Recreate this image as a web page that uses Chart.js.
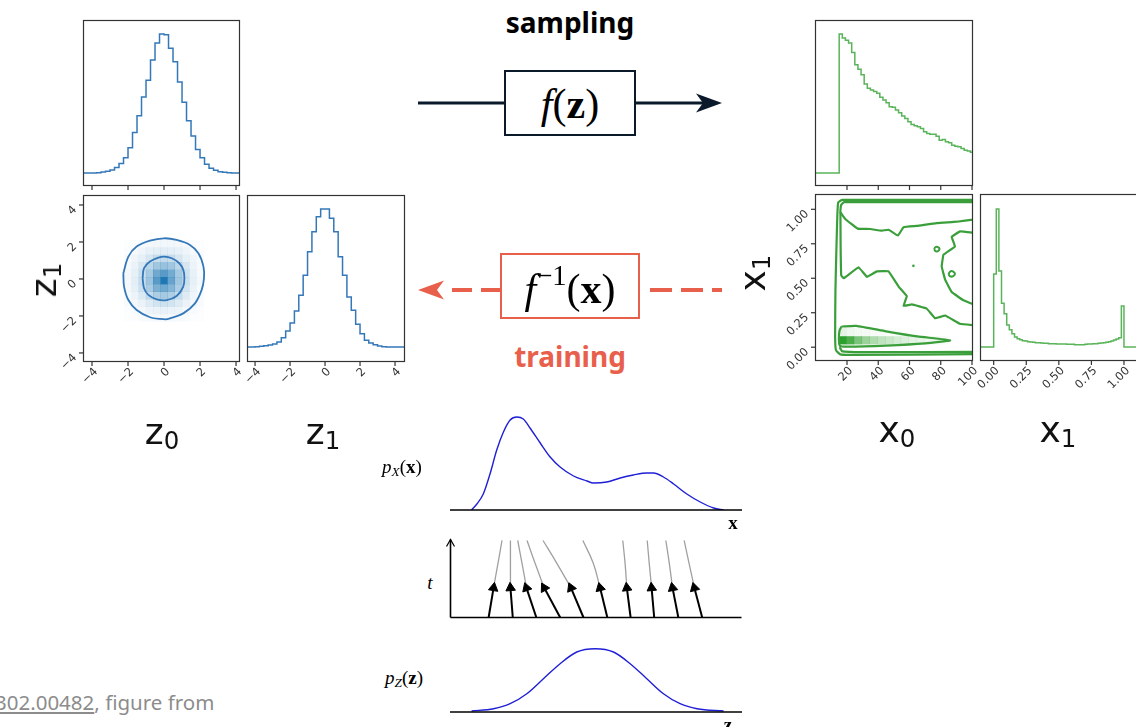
<!DOCTYPE html>
<html>
<head>
<meta charset="utf-8">
<title>normalizing flow</title>
<script src="https://cdn.jsdelivr.net/npm/chart.js@4.4.1/dist/chart.umd.min.js"></script>
<style>
  html, body { margin: 0; padding: 0; background: #fff; }
  #page { position: relative; width: 1136px; height: 727px; overflow: hidden; }
  #page canvas, #page svg { position: absolute; left: 0; top: 0; }
  .lbl { position: absolute; transform: translate(-50%, -50%); white-space: nowrap; line-height: 1; }
  .big { font-family: "DejaVu Sans", sans-serif; font-size: 36px; color: #111; }
  .big sub { font-size: 0.68em; vertical-align: baseline; position: relative; top: 0.22em; }
  .rot { transform: translate(-50%, -50%) rotate(-90deg); }
  .head { font-family: "Noto Sans", sans-serif; font-weight: 700; font-size: 28px; }
  .math { font-family: "Liberation Serif", serif; font-size: 42px; color: #000; }
  .math sup { font-size: 0.68em; vertical-align: baseline; position: relative; top: -0.62em; }
  .small { font-family: "Liberation Serif", serif; font-size: 19px; color: #000; }
  .small sub { font-size: 0.7em; vertical-align: baseline; position: relative; top: 0.25em; }
  #foot { position: absolute; left: -5px; top: 688px; font-family: "Noto Sans", sans-serif; font-size: 20.5px; color: #8c8c8c; white-space: nowrap; }
</style>
</head>
<body>
<div id="page">
  <svg width="1136" height="727">
    <line x1="418" y1="103" x2="505" y2="103" stroke="#0b1a2a" stroke-width="3"/>
    <line x1="635" y1="103" x2="704" y2="103" stroke="#0b1a2a" stroke-width="3"/>
    <path d="M722,103 L696,93.5 L703,103 L696,112.5 Z" fill="#0b1a2a"/>
    <rect x="505" y="71" width="130" height="64" fill="#fff" stroke="#0b1a2a" stroke-width="2"/>
    <path d="M418,290 L444,280.5 L437,290 L444,299.5 Z" fill="#e8604c"/>
    <line x1="452" y1="290" x2="501" y2="290" stroke="#e8604c" stroke-width="4" stroke-dasharray="20 9"/>
    <line x1="650" y1="290" x2="722" y2="290" stroke="#e8604c" stroke-width="4" stroke-dasharray="22 9"/>
    <rect x="501" y="254" width="138" height="64" fill="#fff" stroke="#e8604c" stroke-width="2"/>
  </svg>
</div>
<script>
var page = document.getElementById('page');

// ---------- data ----------
var zTicks = [-4, -2, 0, 2, 4];
var zTickLabels = ['−4', '−2', '0', '2', '4'];
var x0Ticks = [20, 40, 60, 80, 100];
var x0TickLabels = ['20', '40', '60', '80', '100'];
var x1Ticks = [0, 0.25, 0.5, 0.75, 1];
var x1TickLabels = ['0.00', '0.25', '0.50', '0.75', '1.00'];

var zBinStart = -4.5, zBinWidth = 0.25;
var z0Counts = [0, 0, 0, 1, 3, 5, 9, 16, 28, 45, 75, 120, 170, 225, 275, 335, 385, 412,
  410, 370, 330, 270, 210, 155, 110, 70, 45, 26, 14, 8, 4, 2, 1, 0, 0];
var z1Counts = [0, 0, 1, 2, 4, 6, 9, 15, 28, 48, 72, 108, 155, 215, 285, 345, 390, 413,
  413, 385, 345, 270, 215, 150, 110, 68, 40, 20, 12, 7, 3, 1, 0, 0, 0, 0];

var x0BinStart = 15, x0BinWidth = 2;
var x0Counts = [415, 403, 396, 388, 360, 323, 310, 293, 266, 253, 248, 243, 238, 226, 218,
  210, 198, 196, 188, 180, 170, 163, 153, 145, 141, 138, 133, 123, 118, 116, 116, 110,
  98, 100, 93, 90, 83, 80, 78, 73, 68, 66, 62];

var x1BinStart = 0, x1BinWidth = 0.02;
var x1Counts = [219, 414, 228, 131, 100, 66, 52, 40, 30, 25, 22, 19, 18, 16, 15, 14, 13, 13,
  12, 11, 11, 10, 10, 10, 9, 9, 9, 9, 8, 8, 8, 7, 7, 7, 7, 8, 9, 9, 10, 10, 11, 12, 13, 14,
  16, 18, 21, 24, 28, 123];

// 2d histogram of z (density, 0..1)
var zCellX = [-2.0, -1.6, -1.2, -0.8, -0.4, 0, 0.4, 0.8, 1.2, 1.6, 2.0];
var zCellY = [1.9, 1.5, 1.1, 0.7, 0.3, -0.1, -0.5, -0.9, -1.3, -1.7, -2.1];
var zCells = [
  [0.01, 0.02, 0.04, 0.05, 0.06, 0.06, 0.06, 0.05, 0.04, 0.02, 0.01],
  [0.02, 0.04, 0.07, 0.10, 0.12, 0.13, 0.12, 0.10, 0.07, 0.04, 0.02],
  [0.03, 0.07, 0.11, 0.18, 0.25, 0.27, 0.25, 0.18, 0.11, 0.07, 0.03],
  [0.04, 0.09, 0.18, 0.30, 0.42, 0.46, 0.42, 0.30, 0.18, 0.08, 0.04],
  [0.05, 0.11, 0.23, 0.40, 0.64, 0.74, 0.62, 0.40, 0.22, 0.10, 0.04],
  [0.05, 0.12, 0.24, 0.44, 0.74, 1.00, 0.68, 0.42, 0.23, 0.11, 0.05],
  [0.05, 0.11, 0.22, 0.38, 0.58, 0.64, 0.55, 0.37, 0.20, 0.09, 0.04],
  [0.04, 0.08, 0.16, 0.27, 0.37, 0.40, 0.36, 0.25, 0.15, 0.07, 0.03],
  [0.03, 0.05, 0.09, 0.15, 0.20, 0.22, 0.20, 0.15, 0.09, 0.05, 0.03],
  [0.01, 0.03, 0.05, 0.08, 0.09, 0.10, 0.09, 0.08, 0.05, 0.03, 0.01],
  [0.01, 0.01, 0.03, 0.04, 0.04, 0.05, 0.04, 0.04, 0.03, 0.01, 0.01]
];
var zOuter = [[-2.26, 0.31], [-1.98, 1.21], [-1.52, 1.75], [-0.78, 2.07], [0, 2.2], [0.70, 2.11],
  [1.44, 1.84], [1.91, 1.39], [2.19, 0.67], [2.22, 0.04], [2.09, -0.59], [1.72, -1.32],
  [1.07, -1.86], [0.33, -2.13], [0.06, -2.18], [-0.78, -2.07], [-1.52, -1.68], [-1.98, -1.14],
  [-2.22, -0.41], [-2.26, 0.31]];
var zInner = [[-1.19, 0.04], [-1.11, 0.58], [-0.78, 0.94], [-0.31, 1.15], [0, 1.21], [0.43, 1.12],
  [0.85, 0.85], [1.07, 0.49], [1.13, 0.09], [1.07, -0.41], [0.70, -0.92], [0.15, -1.14],
  [-0.41, -1.10], [-0.87, -0.86], [-1.11, -0.50], [-1.19, 0.04]];

// 2d histogram of x
var xCellX = [17, 22, 27, 32, 37, 42, 47, 52, 57, 62, 67, 72, 77, 82];
var xCellY = [0.05, 0.11];
var xCells = [
  [1.0, 0.85, 0.62, 0.48, 0.38, 0.30, 0.25, 0.20, 0.16, 0.13, 0.10, 0.08, 0.06, 0.04],
  [0.12, 0.08, 0.06, 0.05, 0.04, 0.03, 0.02, 0.02, 0.01, 0.01, 0, 0, 0, 0]
];
var xOuter = [[101, 1.068], [17, 1.068], [14.4, 1.05], [13.8, 0.95], [13.1, 0.66], [12.6, 0.41],
  [12.4, 0.08], [12.9, -0.02], [15.7, -0.052], [22, -0.056], [101, -0.05]];
var xBottomBand = [[15.3, 0.0], [17, -0.03], [30, -0.036], [101, -0.034]];
var xTopBand = [[101, 1.052], [18, 1.052], [16.2, 1.03], [15.8, 0.98], [18.9, 0.93], [26.8, 0.86],
  [34.9, 0.857], [42.3, 0.845], [46.6, 0.852], [52.6, 0.81], [56.2, 0.87], [64.7, 0.88],
  [77.4, 0.90], [90.2, 0.91], [101, 0.925]];
var xMidBand = [[15.8, 0.98], [15.9, 0.75], [16.3, 0.52], [17.9, 0.50], [27.4, 0.58], [32.8, 0.51],
  [39.1, 0.55], [46.6, 0.55], [53, 0.44], [58.3, 0.37], [56.2, 0.30], [61.5, 0.31], [71, 0.28],
  [76.4, 0.21], [82.8, 0.23], [92.3, 0.17], [101, 0.16]];
var xRightBlob = [[101, 0.83], [92.3, 0.84], [87, 0.80], [89.1, 0.73], [81.7, 0.67], [80.6, 0.585],
  [82.8, 0.49], [87, 0.40], [94.5, 0.34], [101, 0.31]];
var xTongue = [[16.5, 0.15], [26, 0.155], [45, 0.115], [65, 0.078], [86, 0.05], [70, 0.028],
  [45, 0.012], [20, 0.004], [15.5, 0.01], [14.8, 0.06], [15.2, 0.12], [16.5, 0.15]];
var xIslandA = [[75.7, 0.71], [76.5, 0.725], [78, 0.727], [79.2, 0.715], [78.6, 0.70], [77, 0.695], [75.7, 0.71]];
var xIslandB = [[84.9, 0.53], [86.2, 0.55], [88, 0.548], [89.1, 0.532], [88, 0.515], [86, 0.514], [84.9, 0.53]];
var xSpeck = [[62.5, 0.59]];

// 1d flow sketch
var pxX = [0.74, 0.92, 1.14, 1.37, 1.60, 1.83, 2.06, 2.29, 2.51, 2.74, 3.09, 3.43, 3.77, 4.23,
  4.69, 4.91, 5.37, 5.83, 6.28, 6.74, 6.97, 7.31, 7.66, 8.11, 8.57, 9.03, 9.37];
var pxVals = [0, 6, 16, 36, 60, 78, 90, 93, 91, 82, 67, 53, 43, 34, 29, 27, 28, 32, 35, 37, 37,
  33, 26, 16, 8, 2, 0];
var pzX = [0.74, 1.49, 2.06, 2.63, 3.20, 3.77, 4.34, 4.97, 5.60, 6.17, 6.74, 7.31, 7.88, 8.46, 9.37];
var pzVals = [1, 3.3, 8.3, 18.3, 33.3, 48.3, 60, 63.3, 60, 48.3, 33.3, 18.3, 8.3, 3.3, 1];
var arrowBaseX = [1.31, 2.14, 2.95, 3.77, 4.57, 5.39, 6.19, 7.00, 7.83, 8.65];
var arrowTipX = [1.48, 2.06, 2.61, 3.22, 4.14, 5.14, 6.06, 6.91, 7.63, 8.38];
var pathMidX = [1.63, 2.06, 2.46, 2.91, 3.66, 4.91, 6.00, 6.83, 7.52, 8.20];
var pathTopX = [1.77, 2.06, 2.31, 2.63, 3.18, 4.55, 5.92, 6.76, 7.40, 8.03];
var tipT = 0.385, midT = 0.7, topT = 1.0;

// ---------- helpers ----------
function seg(ctx, x1, y1, x2, y2) {
  ctx.beginPath(); ctx.moveTo(x1, y1); ctx.lineTo(x2, y2); ctx.stroke();
}

function rotText(ctx, s, x, y) {
  ctx.save();
  ctx.translate(x, y);
  ctx.rotate(-Math.PI / 4);
  ctx.textAlign = 'right';
  ctx.textBaseline = 'middle';
  ctx.fillText(s, 0, 0);
  ctx.restore();
}

var decoPlugin = {
  id: 'deco',
  afterDatasetsDraw: function (chart, args, o) {
    var ctx = chart.ctx, a = chart.chartArea, xs = chart.scales.x, ys = chart.scales.y;
    ctx.save();
    ctx.strokeStyle = '#333';
    ctx.lineWidth = 1.2;
    if (o.box) ctx.strokeRect(a.left + 0.5, a.top + 0.5, a.right - a.left - 1, a.bottom - a.top - 1);
    ctx.fillStyle = '#333';
    ctx.font = '11.5px "DejaVu Sans"';
    (o.xTicks || []).forEach(function (v, i) {
      var px = xs.getPixelForValue(v);
      seg(ctx, px, a.bottom, px, a.bottom + 4);
      if (o.xLabels) rotText(ctx, o.xLabels[i], px + 4, a.bottom + 8);
    });
    (o.yTicks || []).forEach(function (v, i) {
      var py = ys.getPixelForValue(v);
      seg(ctx, a.left - 4, py, a.left, py);
      if (o.yLabels) rotText(ctx, o.yLabels[i], a.left - 8, py + 3);
    });
    ctx.strokeStyle = '#000';
    ctx.lineWidth = 1.6;
    if (o.baseAxis) seg(ctx, a.left, a.bottom, a.right, a.bottom);
    if (o.tAxis) {
      seg(ctx, a.left, a.bottom, a.left, a.top + 1);
      ctx.lineWidth = 1.2;
      ctx.beginPath();
      ctx.moveTo(a.left - 4, a.top + 8); ctx.lineTo(a.left, a.top + 1); ctx.lineTo(a.left + 4, a.top + 8);
      ctx.stroke();
    }
    ctx.restore();
  }
};

function makeCanvas(f, pad) {
  var c = document.createElement('canvas');
  var w = Math.round(f.r - f.l + pad.l + pad.r), h = Math.round(f.b - f.t + pad.t + pad.b);
  c.width = w; c.height = h;
  c.style.width = w + 'px'; c.style.height = h + 'px';
  c.style.left = (f.l - pad.l) + 'px';
  c.style.top = (f.t - pad.t) + 'px';
  page.appendChild(c);
  return c;
}

function makeChart(f, pad, xr, yr, datasets, deco) {
  return new Chart(makeCanvas(f, pad), {
    type: 'scatter',
    data: { datasets: datasets },
    options: {
      responsive: false,
      animation: false,
      events: [],
      layout: { padding: { left: pad.l, right: pad.r, top: pad.t, bottom: pad.b } },
      scales: {
        x: { type: 'linear', display: false, bounds: 'data', min: xr[0], max: xr[1] },
        y: { type: 'linear', display: false, bounds: 'data', min: yr[0], max: yr[1] }
      },
      plugins: { legend: { display: false }, tooltip: { enabled: false }, deco: deco }
    },
    plugins: [decoPlugin]
  });
}

function histPoints(start, width, counts, xr) {
  var pts = [{ x: xr[0], y: 0 }];
  counts.forEach(function (c, i) { pts.push({ x: start + i * width, y: c }); });
  pts.push({ x: start + counts.length * width, y: 0 });
  pts.push({ x: xr[1], y: 0 });
  return pts;
}

function histRange(f, base, peak, counts) {
  var k = Math.max.apply(null, counts) / (base - peak);
  return [-(f.b - base) * k, (base - f.t) * k];
}

function histSet(pts, color) {
  return { data: pts, showLine: true, stepped: true, pointRadius: 0, borderColor: color, borderWidth: 1.5 };
}

function pairs(list) {
  return list.map(function (p) { return { x: p[0], y: p[1] }; });
}

function lineSet(list, color, width, tension) {
  return { data: pairs(list), showLine: true, pointRadius: 0, borderColor: color, borderWidth: width, tension: tension };
}

function cellSet(cx, cy, m, cellW, rgb) {
  var pts = [];
  cy.forEach(function (y, r) {
    cx.forEach(function (x, c) { if (m[r][c] > 0) pts.push({ x: x, y: y, v: m[r][c] }); });
  });
  return {
    data: pts,
    pointStyle: 'rect',
    borderWidth: 0,
    pointRadius: function (c) {
      var s = c.chart.scales.x;
      return Math.abs(s.getPixelForValue(cellW) - s.getPixelForValue(0)) / 2 / Math.SQRT1_2 + 0.3;
    },
    backgroundColor: function (c) {
      return 'rgba(' + rgb + ',' + (c.raw ? c.raw.v : 0) + ')';
    }
  };
}

var zBlue = '#3478b9', xGreen = '#5ab45a', xGreenDark = '#3a9f3a';

// ---------- z corner ----------
var f1 = { l: 83, t: 20, r: 240, b: 186 };
var zxr = [-4.5, 4.22];
makeChart(f1, { l: 6, r: 6, t: 6, b: 10 }, zxr, histRange(f1, 173, 34, z0Counts),
  [histSet(histPoints(zBinStart, zBinWidth, z0Counts, zxr), zBlue)],
  { box: true, xTicks: zTicks });

var f2 = { l: 83, t: 195, r: 240, b: 362 };
makeChart(f2, { l: 40, r: 4, t: 4, b: 40 }, zxr, [-4.49, 4.54], [
  lineSet(zOuter, zBlue, 1.8, 0.35),
  lineSet(zInner, zBlue, 1.8, 0.35),
  cellSet(zCellX, zCellY, zCells, 0.4, '31,119,180')
], { box: true, xTicks: zTicks, xLabels: zTickLabels, yTicks: zTicks, yLabels: zTickLabels });

var f3 = { l: 247, t: 195, r: 405, b: 362 };
var z1xr = [-4.46, 4.57];
makeChart(f3, { l: 4, r: 6, t: 4, b: 40 }, z1xr, histRange(f3, 347, 209, z1Counts),
  [histSet(histPoints(zBinStart, zBinWidth, z1Counts, z1xr), zBlue)],
  { box: true, xTicks: zTicks, xLabels: zTickLabels });

// ---------- x corner ----------
var f4 = { l: 815, t: 20, r: 973, b: 186 };
var x0xr = [-0.48, 100.64];
makeChart(f4, { l: 6, r: 6, t: 6, b: 10 }, x0xr, histRange(f4, 173, 34, x0Counts),
  [histSet(histPoints(x0BinStart, x0BinWidth, x0Counts, x0xr), xGreen)],
  { box: true, xTicks: x0Ticks });

var f5 = { l: 815, t: 194, r: 973, b: 361 };
makeChart(f5, { l: 45, r: 4, t: 4, b: 45 }, x0xr, [-0.10, 1.111], [
  lineSet(xOuter, xGreenDark, 2.2, 0.15),
  lineSet(xBottomBand, xGreenDark, 2.2, 0.15),
  lineSet(xTopBand, xGreenDark, 2.2, 0.1),
  lineSet(xMidBand, xGreenDark, 2.2, 0.05),
  lineSet(xRightBlob, xGreenDark, 2.2, 0.05),
  lineSet(xTongue, xGreenDark, 2.2, 0.15),
  lineSet(xIslandA, xGreenDark, 2, 0.3),
  lineSet(xIslandB, xGreenDark, 2, 0.3),
  { data: pairs(xSpeck), pointRadius: 1.3, backgroundColor: xGreenDark, borderWidth: 0 },
  cellSet(xCellX, xCellY, xCells, 5, '44,160,44')
], { box: true, xTicks: x0Ticks, xLabels: x0TickLabels, yTicks: x1Ticks, yLabels: x1TickLabels });

var f6 = { l: 980, t: 194, r: 1140, b: 361 };
var x1xr = [-0.105, 1.123];
makeChart(f6, { l: 4, r: 4, t: 4, b: 45 }, x1xr, histRange(f6, 347, 209, x1Counts),
  [histSet(histPoints(x1BinStart, x1BinWidth, x1Counts, x1xr), xGreen)],
  { box: true, xTicks: x1Ticks, xLabels: x1TickLabels });

// ---------- 1d flow sketch ----------
var flowBlue = '#1f1fd6';
var f7 = { l: 450, t: 405, r: 742, b: 510 };
makeChart(f7, { l: 6, r: 6, t: 6, b: 6 }, [0, 10], [0, 105], [
  { data: pxX.map(function (x, i) { return { x: x, y: pxVals[i] }; }), showLine: true, pointRadius: 0,
    borderColor: flowBlue, borderWidth: 1.4, cubicInterpolationMode: 'monotone' }
], { baseAxis: true });

var f8 = { l: 450, t: 538, r: 742, b: 618 };
var flowSets = [];
arrowBaseX.forEach(function (bx, i) {
  flowSets.push({ data: [{ x: bx, y: 0 }, { x: arrowTipX[i], y: tipT }], showLine: true, pointRadius: 0,
    borderColor: '#000', borderWidth: 2 });
  flowSets.push({ data: [{ x: arrowTipX[i], y: tipT }, { x: pathMidX[i], y: midT }, { x: pathTopX[i], y: topT }],
    showLine: true, pointRadius: 0, borderColor: '#a0a0a0', borderWidth: 1.3, tension: 0.4 });
});
flowSets.unshift({
  data: arrowTipX.map(function (x) { return { x: x, y: tipT }; }),
  pointStyle: 'triangle', pointRadius: 5.5, backgroundColor: '#000', borderColor: '#000', borderWidth: 1,
  pointRotation: function (c) {
    var xs = c.chart.scales.x, ys = c.chart.scales.y, i = c.dataIndex;
    var dx = xs.getPixelForValue(arrowTipX[i]) - xs.getPixelForValue(arrowBaseX[i]);
    var dy = ys.getPixelForValue(0) - ys.getPixelForValue(tipT);
    return Math.atan2(dx, dy) * 180 / Math.PI;
  }
});
makeChart(f8, { l: 6, r: 6, t: 6, b: 6 }, [0, 10], [0, 80 / 78], flowSets, { baseAxis: true, tAxis: true });

var f9 = { l: 450, t: 640, r: 742, b: 712 };
makeChart(f9, { l: 6, r: 6, t: 6, b: 6 }, [0, 10], [0, 72], [
  { data: pzX.map(function (x, i) { return { x: x, y: pzVals[i] }; }), showLine: true, pointRadius: 0,
    borderColor: flowBlue, borderWidth: 1.4, cubicInterpolationMode: 'monotone' }
], { baseAxis: true });

// ---------- text ----------
function label(html, cls, x, y) {
  var d = document.createElement('div');
  d.className = 'lbl ' + cls;
  d.innerHTML = html;
  d.style.left = x + 'px';
  d.style.top = y + 'px';
  page.appendChild(d);
}

label('z<sub>1</sub>', 'big rot', 44, 280);
label('z<sub>0</sub>', 'big', 162, 432);
label('z<sub>1</sub>', 'big', 323, 432);
label('x<sub>1</sub>', 'big rot', 753, 273);
label('x<sub>0</sub>', 'big', 897, 430);
label('x<sub>1</sub>', 'big', 1058, 430);
label('sampling', 'head', 570, 22);
label('<span style="color:#e8604c">training</span>', 'head', 570, 356);
label('<i>f</i>(<b>z</b>)', 'math', 570, 104);
label('<i>f</i><sup>−1</sup>(<b>x</b>)', 'math', 570, 289);
label('<i>p</i><sub><i>X</i></sub>(<b>x</b>)', 'small', 402, 466);
label('<i>p</i><sub><i>Z</i></sub>(<b>z</b>)', 'small', 404, 677);
label('<i>t</i>', 'small', 430, 582);
label('<b>x</b>', 'small', 733, 522);
label('<b>z</b>', 'small', 728, 724);

var foot = document.createElement('div');
foot.id = 'foot';
foot.innerHTML = '<u>302.00482</u>, figure from';
page.appendChild(foot);
</script>
</body>
</html>
